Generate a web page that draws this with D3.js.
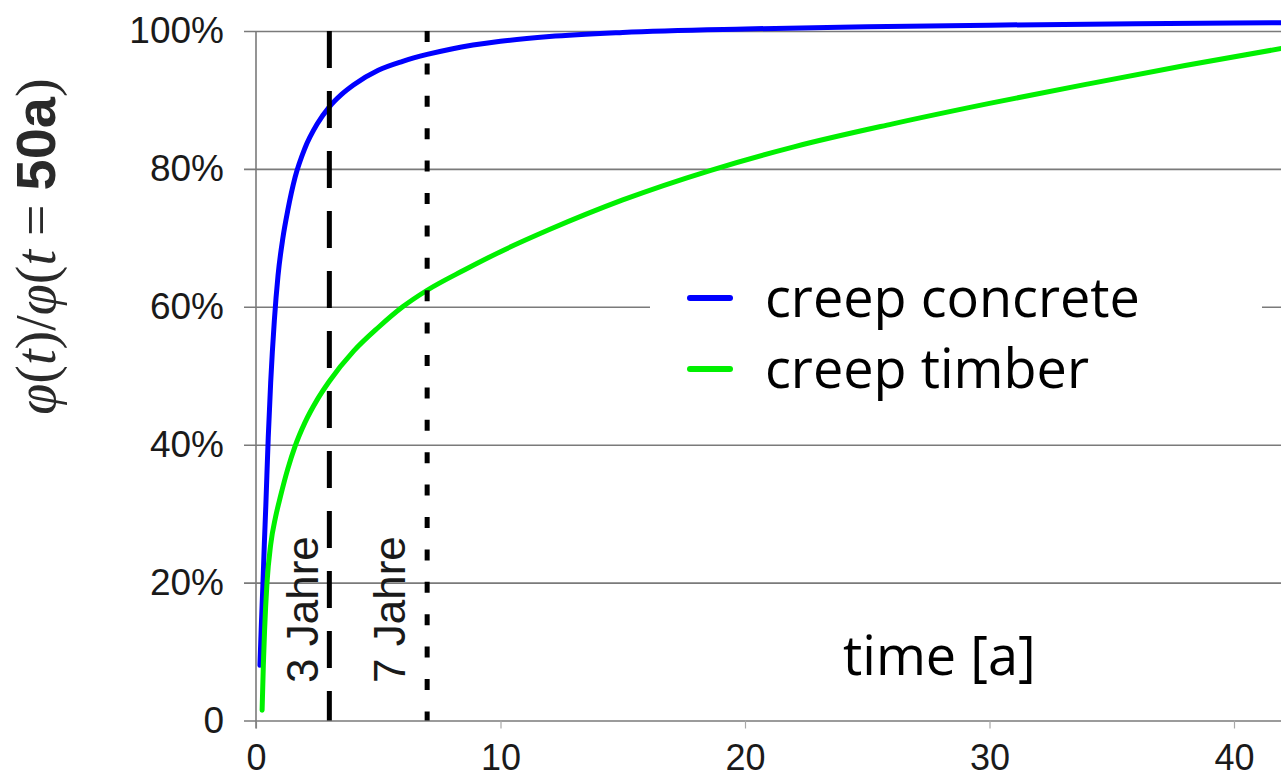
<!DOCTYPE html>
<html>
<head>
<meta charset="utf-8">
<script src="https://cdn.jsdelivr.net/npm/d3@7"></script>
<style>
  html, body { margin: 0; padding: 0; background: #fff; overflow: hidden; }
  svg { display: block; }
</style>
</head>
<body>
<svg id="chart" width="1281" height="778"></svg>
<script>
// Creep progress φ(t)/φ(t = 50a) in percent over time in years
const concreteTime  = [0.16, 0.22, 0.28, 0.34, 0.4, 0.5, 0.6, 0.75, 0.9, 1.1, 1.3, 1.6, 2.0, 2.5, 3.0, 3.5, 4.0, 5.0, 6.0, 7.0, 8.0, 10, 12, 15, 20, 25, 30, 36, 42, 50];
const concreteShare = [8, 14, 19.5, 25.5, 31, 41, 49, 58, 64.5, 70, 74, 78.8, 83, 86.5, 89, 90.8, 92.2, 94.3, 95.6, 96.6, 97.4, 98.5, 99.2, 99.8, 100.3, 100.6, 100.85, 101.05, 101.2, 101.4];

const timberTime  = [0.25, 0.3, 0.35, 0.45, 0.6, 0.8, 1.0, 1.3, 1.6, 2.0, 2.5, 3.0, 4.0, 5.0, 6.0, 7.0, 8.5, 10, 12, 15, 18.6, 22, 26, 30, 34, 38, 42, 50];
const timberShare = [1.5, 8, 13, 20, 25.5, 29.5, 32.5, 36.5, 39.8, 43.2, 46.5, 49.2, 53.6, 57, 60, 62.4, 65.3, 68, 71.2, 75.5, 79.8, 83.2, 86.5, 89.5, 92.3, 95, 97.5, 102];

const yTickValues = [0, 20, 40, 60, 80, 100];
const yTickLabels = ["0", "20%", "40%", "60%", "80%", "100%"];
const xTickValues = [0, 10, 20, 30, 40];

const markerYears  = [3, 7];
const markerLabels = ["3 Jahre", "7 Jahre"];
const markerDashes = ["37,23", "11,21.4"];

const seriesNames  = ["creep concrete", "creep timber"];
const seriesColors = ["#0000ff", "#00f000"];

const svg = d3.select("#chart");

// The time axis continues past the right edge of the drawing
const x = d3.scaleLinear().domain([0, 50]).range([256, 256 + 50 * 24.45]);
const y = d3.scaleLinear().domain([0, 100]).range([720.5, 31]);

const gridColor = "#7a7a7a";
const textColor = "#1a1a1a";
const tickFont = "'Liberation Sans', Arial, sans-serif";

svg.append("rect").attr("width", 1281).attr("height", 778).attr("fill", "#fff");

// Horizontal grid lines with the percentage labels on the left
const yAxis = d3.axisLeft(y)
  .tickValues(yTickValues)
  .tickFormat((d, i) => yTickLabels[i])
  .tickSize(-(1300 - 244))
  .tickPadding(20);

const gy = svg.append("g").attr("transform", "translate(244,0)").call(yAxis);
gy.select(".domain").remove();
gy.selectAll(".tick line").attr("stroke", gridColor).attr("stroke-width", 1.6);
gy.selectAll(".tick text")
  .attr("fill", textColor)
  .style("font-family", tickFont)
  .style("font-size", "37px");

// Bottom axis: small ticks and year labels
const xAxis = d3.axisBottom(x)
  .tickValues(xTickValues)
  .tickFormat(d3.format("d"))
  .tickSize(8)
  .tickPadding(16);

const gx = svg.append("g").attr("transform", `translate(0,${y(0)})`).call(xAxis);
gx.select(".domain").remove();
gx.selectAll(".tick line").attr("stroke", "#a8a8a8").attr("stroke-width", 1.2);
gx.selectAll(".tick text")
  .attr("fill", textColor)
  .style("font-family", tickFont)
  .style("font-size", "36px");

// Left axis line
svg.append("line")
  .attr("x1", x(0)).attr("x2", x(0))
  .attr("y1", y(100)).attr("y2", y(0) + 8)
  .attr("stroke", gridColor).attr("stroke-width", 1.6);

// Creep curves
const line = d3.line()
  .x(d => x(d[0]))
  .y(d => y(d[1]))
  .curve(d3.curveMonotoneX);

const series = [
  d3.zip(concreteTime, concreteShare),
  d3.zip(timberTime, timberShare)
];

svg.append("g").selectAll("path")
  .data(series)
  .join("path")
  .attr("d", line)
  .attr("fill", "none")
  .attr("stroke", (d, i) => seriesColors[i])
  .attr("stroke-width", 5)
  .attr("stroke-linecap", "round")
  .attr("stroke-linejoin", "round");

// Marker lines at 3 and 7 years
svg.append("g").selectAll("line")
  .data(markerYears)
  .join("line")
  .attr("x1", d => x(d)).attr("x2", d => x(d))
  .attr("y1", y(100)).attr("y2", y(0))
  .attr("stroke", "#000")
  .attr("stroke-width", 5)
  .attr("stroke-dasharray", (d, i) => markerDashes[i]);

svg.append("g").selectAll("text")
  .data(markerYears)
  .join("text")
  .attr("transform", d => `translate(${x(d) - (d === 3 ? 11 : 22)},683) rotate(-90)`)
  .attr("fill", textColor)
  .style("font-family", tickFont)
  .style("font-size", "44px")
  .text((d, i) => markerLabels[i]);

// Legend
const legend = svg.append("g");
legend.append("rect")
  .attr("x", 650).attr("y", 268)
  .attr("width", 612).attr("height", 140)
  .attr("fill", "#fff");

const items = legend.selectAll("g.item")
  .data(seriesNames)
  .join("g")
  .attr("class", "item")
  .attr("transform", (d, i) => `translate(0,${i * 71})`);

items.append("line")
  .attr("x1", 690).attr("x2", 730)
  .attr("y1", 298).attr("y2", 298)
  .attr("stroke", (d, i) => seriesColors[i])
  .attr("stroke-width", 6)
  .attr("stroke-linecap", "round");

items.append("text")
  .attr("x", 765).attr("y", 317)
  .attr("fill", "#000")
  .style("font-family", "'Open Sans', sans-serif")
  .style("font-size", "54px")
  .text(d => d);

// Axis titles
svg.append("text")
  .attr("x", 843).attr("y", 675)
  .attr("fill", "#000")
  .style("font-family", "'Open Sans', sans-serif")
  .style("font-size", "54px")
  .text("time [a]");

const yTitle = svg.append("text")
  .attr("transform", "translate(55,246.5) rotate(-90)")
  .attr("text-anchor", "middle")
  .attr("fill", "#2a2a2a")
  .style("font-family", "'Liberation Serif', 'Times New Roman', serif")
  .style("font-size", "56px");

const titleParts = [
  ["φ", "italic", "normal"], ["(", "normal", "normal"], ["t", "italic", "normal"], [")", "normal", "normal"],
  ["/", "normal", "normal"],
  ["φ", "italic", "normal"], ["(", "normal", "normal"], ["t", "italic", "normal"],
  ["\u2005=\u2005", "normal", "normal"],
  ["50a", "normal", "bold"], [")", "normal", "normal"]
];
yTitle.selectAll("tspan")
  .data(titleParts)
  .join("tspan")
  .style("font-style", d => d[1])
  .style("font-weight", d => d[2])
  .style("font-family", d => d[2] === "bold" ? tickFont : null)
  .text(d => d[0]);
</script>
</body>
</html>
